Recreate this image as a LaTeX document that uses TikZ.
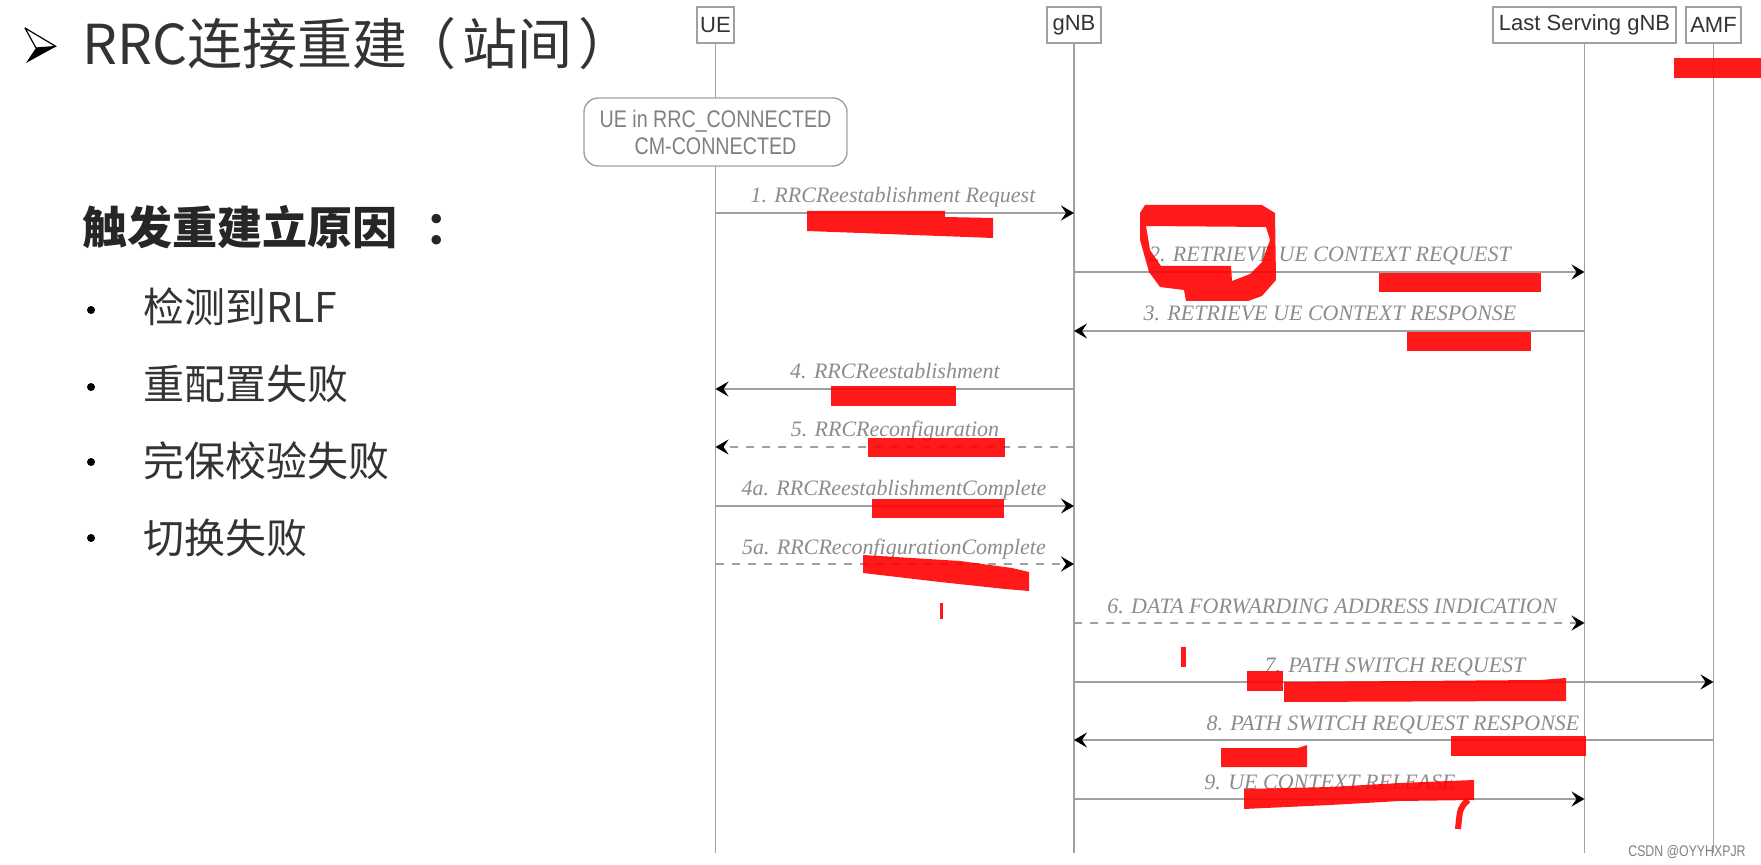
\documentclass[tikz,border=0pt]{standalone}
\usepackage{fontspec}
\setmainfont{Liberation Serif}
\newfontfamily\cjkfont{Noto Sans CJK SC}
\newfontfamily\arialfont{Liberation Sans}
\usetikzlibrary{arrows.meta}
\definecolor{linegray}{HTML}{A0A0A0}
\definecolor{labelgray}{HTML}{8C8C8C}
\definecolor{txtdark}{HTML}{333333}
\definecolor{markred}{HTML}{FF0000}
\begin{document}
\begin{tikzpicture}[x=0.5pt,y=-0.5pt,
  hdr/.style={draw=linegray, line width=0.7pt, fill=white, inner sep=0pt, font=\arialfont\fontsize{11pt}{13pt}\selectfont, text=txtdark, minimum height=18pt},
  life/.style={draw=linegray, line width=0.8pt},
  msg/.style={draw=linegray, line width=0.8pt, -{Stealth[length=6.5pt,width=7.5pt,inset=2.5pt,color=black]}},
  dmsg/.style={msg, dash pattern=on 4pt off 4pt},
  lbl/.style={font=\fontsize{11pt}{13pt}\selectfont\itshape, text=labelgray, anchor=base, inner sep=0pt},
  redmark/.style={fill=markred, draw=none, opacity=0.9},
  bul/.style={fill=black, circle, inner sep=0pt, minimum size=4pt},
  itemtxt/.style={anchor=base west, inner sep=0pt, text=txtdark, font=\cjkfont\fontsize{20.5pt}{23pt}\selectfont},
]
\fill[white] (0,0) rectangle (1761,865);
\useasboundingbox (0,0) rectangle (1761,865);

% ---- left text ----
\fill[black] (36,48) -- (56,46.5) -- (26,63) -- cycle;
\draw[black, line width=0.6pt, fill=white, line join=round] (25,28) -- (56,46.5) -- (36,48) -- cycle;
\node[anchor=base west, inner sep=0pt, text=txtdark, font=\cjkfont\fontsize{27.5pt}{30pt}\selectfont] (title) at (82,65) {RRC连接重建\kern-3pt（\kern3pt 站间\kern3pt ）};
\node[anchor=base west, inner sep=0pt, text=black!85, font=\cjkfont\bfseries\fontsize{22.5pt}{25pt}\selectfont] (cause) at (82,245) {触发重建立原因\kern14pt：};
\node[bul] (b1) at (91,310) {};
\node[bul] (b2) at (91,387) {};
\node[bul] (b3) at (91,462) {};
\node[bul] (b4) at (91,538) {};
\node[itemtxt] (i1) at (143,323) {检测到RLF};
\node[itemtxt] (i2) at (143,400) {重配置失败};
\node[itemtxt] (i3) at (143,477) {完保校验失败};
\node[itemtxt] (i4) at (143,553) {切换失败};

% ---- headers ----
\node[hdr, minimum width=18.5pt] (ue) at (715.5,25) {UE};
\node[hdr, minimum width=27pt] (gnb) at (1074,25) {gNB};
\node[hdr, minimum width=91.5pt] (ls) at (1584.5,25) {Last Serving gNB};
\node[hdr, minimum width=27.5pt] (amf) at (1713.5,25) {AMF};

\coordinate (bot) at (0,853);
\draw[life] (ue.south) -- (ue.south |- bot);
\draw[life] (gnb.south) -- (gnb.south |- bot);
\draw[life] (ls.south) -- (ls.south |- bot);
\draw[life] (amf.south) -- (amf.south |- bot);

\node[draw=linegray, line width=0.7pt, fill=white, rounded corners=7pt, minimum width=131.5pt, minimum height=34pt, align=center, inner sep=0pt, text=gray, font=\arialfont\fontsize{12pt}{13.5pt}\selectfont] (state) at (715.5,132) {\scalebox{0.82}[1]{UE in RRC\_CONNECTED}\\\scalebox{0.82}[1]{CM-CONNECTED}};

% ---- messages ----
\coordinate (y1) at (0,213);
\coordinate (y2) at (0,272);
\coordinate (y3) at (0,331);
\coordinate (y4) at (0,389);
\coordinate (y5) at (0,447);
\coordinate (y4a) at (0,506);
\coordinate (y5a) at (0,564);
\coordinate (y6) at (0,623);
\coordinate (y7) at (0,682);
\coordinate (y8) at (0,740);
\coordinate (y9) at (0,799);

\draw[msg] (ue |- y1) -- (gnb |- y1);
\draw[msg] (gnb |- y2) -- (ls |- y2);
\draw[msg] (ls |- y3) -- (gnb |- y3);
\draw[msg] (gnb |- y4) -- (ue |- y4);
\draw[dmsg] (gnb |- y5) -- (ue |- y5);
\draw[msg] (ue |- y4a) -- (gnb |- y4a);
\draw[dmsg] (ue |- y5a) -- (gnb |- y5a);
\draw[dmsg] (gnb |- y6) -- (ls |- y6);
\draw[msg] (gnb |- y7) -- (amf |- y7);
\draw[msg] (amf |- y8) -- (gnb |- y8);
\draw[msg] (gnb |- y9) -- (ls |- y9);

\node[lbl] (l1) at (893,203) {1. RRCReestablishment Request};
\node[lbl] (l2) at (1330,262) {2. RETRIEVE UE CONTEXT REQUEST};
\node[lbl] (l3) at (1330,321) {3. RETRIEVE UE CONTEXT RESPONSE};
\node[lbl] (l4) at (895,379) {4. RRCReestablishment};
\node[lbl] (l5) at (895,437) {5. RRCReconfiguration};
\node[lbl] (l4a) at (894,496) {4a. RRCReestablishmentComplete};
\node[lbl] (l5a) at (894,554) {5a. RRCReconfigurationComplete};
\node[lbl] (l6) at (1332,613) {6. DATA FORWARDING ADDRESS INDICATION};
\node[lbl] (l7) at (1395,672) {7. PATH SWITCH REQUEST};
\node[lbl] (l8) at (1393,730) {8. PATH SWITCH REQUEST RESPONSE};
\node[lbl] (l9) at (1330,789) {9. UE CONTEXT RELEASE};

% ---- red scribbles ----
\fill[redmark] (807,211) -- (945,211) -- (945,217) -- (993,218) -- (993,238) -- (940,236) -- (807,231) -- cycle;
\fill[redmark, even odd rule] (1145,205) -- (1262,205) -- (1275,213) -- (1276,280) -- (1262,296) -- (1248,301) -- (1186,301) -- (1184,290) -- (1160,287) -- (1149,272) -- (1140,240) -- (1140,213) -- cycle
  (1146,226) -- (1266,227) -- (1270,240) -- (1262,262) -- (1250,274) -- (1232,281) -- (1231,266) -- (1161,266) -- (1150,250) -- cycle;
\fill[redmark] (1379,273) rectangle (1541,292);
\fill[redmark] (1407,332) rectangle (1531,351);
\fill[redmark] (831,386) rectangle (956,406);
\fill[redmark] (868,438) rectangle (1005,457);
\fill[redmark] (872,499) rectangle (1004,518);
\fill[redmark] (863,555) -- (960,561) -- (1012,568) -- (1029,572) -- (1029,591) -- (1005,589) -- (940,582) -- (863,573) -- cycle;
\fill[redmark] (940,603) rectangle (943,619);
\fill[redmark] (1181,647) rectangle (1186,667);
\fill[redmark] (1247,671) rectangle (1283,691);
\fill[redmark] (1284,682) -- (1540,680) -- (1566,678) -- (1566,701) -- (1540,701) -- (1284,702) -- cycle;
\fill[redmark] (1221,748) -- (1298,748) -- (1307,745) -- (1307,767) -- (1221,767) -- cycle;
\fill[redmark] (1451,736) rectangle (1586,756);
\fill[redmark] (1244,789) -- (1330,787) -- (1400,783) -- (1474,780) -- (1474,800) -- (1400,801) -- (1330,805) -- (1244,809) -- cycle;
\draw[markred, opacity=0.9, line width=3pt] (1468,800) .. controls (1460,808) .. (1458,829);
\fill[redmark] (1674,58) rectangle (1761,78);

% ---- watermark ----
\node[anchor=base east, inner sep=0pt, text=gray, font=\arialfont\fontsize{7.7pt}{9pt}\selectfont] (wm) at (1746,856) {\scalebox{0.8}[1]{CSDN @OYYHXPJR}};
\end{tikzpicture}
\end{document}
